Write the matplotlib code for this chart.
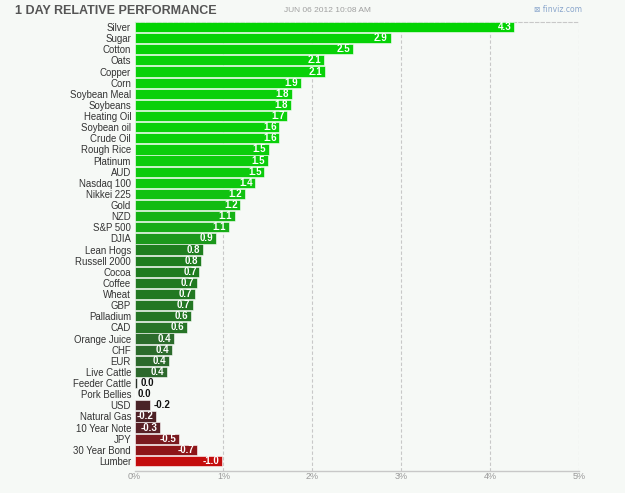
import matplotlib
matplotlib.use("Agg")
import matplotlib.pyplot as plt
import numpy as np
from matplotlib.colors import LinearSegmentedColormap

names = ["Silver", "Sugar", "Cotton", "Oats", "Copper", "Corn", "Soybean Meal",
         "Soybeans", "Heating Oil", "Soybean oil", "Crude Oil", "Rough Rice",
         "Platinum", "AUD", "Nasdaq 100", "Nikkei 225", "Gold", "NZD", "S&P 500",
         "DJIA", "Lean Hogs", "Russell 2000", "Cocoa", "Coffee", "Wheat", "GBP",
         "Palladium", "CAD", "Orange Juice", "CHF", "EUR", "Live Cattle",
         "Feeder Cattle", "Pork Bellies", "USD", "Natural Gas", "10 Year Note",
         "JPY", "30 Year Bond", "Lumber"]
values = [4.27, 2.88, 2.46, 2.13, 2.14, 1.87, 1.77,
          1.76, 1.72, 1.63, 1.63, 1.51,
          1.50, 1.46, 1.36, 1.24, 1.19, 1.13, 1.06,
          0.92, 0.77, 0.75, 0.73, 0.70, 0.68, 0.66,
          0.63, 0.59, 0.44, 0.42, 0.39, 0.37,
          0.03, 0.0, -0.17, -0.24, -0.29,
          -0.50, -0.70, -0.98]
ticks = [0, 1, 2, 3, 4, 5]
tick_labels = ["0%", "1%", "2%", "3%", "4%", "5%"]

pos_stops = [(0.0, "#262626"), (0.1, "#2d5a2d"), (0.45, "#2c6d2c"),
             (0.75, "#1e7c1e"), (0.9, "#1c951c"), (1.05, "#17ab17"),
             (1.25, "#0fc40f"), (1.6, "#0ad00a"), (5.0, "#00d400")]
pos_cmap = LinearSegmentedColormap.from_list("pos", [(x / 5.0, c) for x, c in pos_stops])
neg_cmap = LinearSegmentedColormap.from_list(
    "neg", [(0.0, "#3a2226"), (0.17, "#4a2428"), (0.24, "#4e2226"), (0.3, "#5a2025"),
            (0.5, "#7a1a1f"), (0.7, "#8e1518"), (1.0, "#c80c0c")])

def color_for(v):
    if v >= 0:
        return pos_cmap(min(v, 5.0) / 5.0)
    return neg_cmap(min(-v, 1.0))

bg = "#f6f9f6"
fig = plt.figure(figsize=(6.25, 4.93), dpi=100, facecolor=bg)
ax = fig.add_axes([0.2152, 0.0446, 0.9264 - 0.2152, 0.9554 - 0.0446])
ax.set_facecolor(bg)

y = np.arange(len(names))
widths = [abs(v) for v in values]
colors = [color_for(v) for v in values]
ax.barh(y, widths, height=0.92, color=colors, edgecolor="#ffffff",
        linewidth=0.4, zorder=3)

for yi, v, w in zip(y, values, widths):
    txt = f"{v:.1f}"
    if w < 0.2:
        ax.text(w + 0.04, yi, txt, ha="left", va="center", fontsize=7,
                fontweight="bold", color="#111111", family="Liberation Sans",
                zorder=5)
    else:
        ax.text(w - 0.03, yi, txt, ha="right", va="center", fontsize=7,
                fontweight="bold", color="white", family="Liberation Sans",
                zorder=5)

ax.set_xlim(0, 5)
ax.set_ylim(39.9, -0.45)
ax.set_yticks(y)
ax.set_yticklabels(names, fontsize=6.9, color="#333333", family="Liberation Sans")
ax.set_xticks(ticks)
ax.set_xticklabels(tick_labels, fontsize=6.5, color="#999999", family="Liberation Sans")
ax.tick_params(axis="y", length=0, pad=2.5)
ax.tick_params(axis="x", length=0, pad=1)

for t in ticks[1:]:
    ax.axvline(t, color="#c8c8c8", linestyle=(0, (3, 2)), linewidth=0.8, zorder=1)
for s in ["left", "right"]:
    ax.spines[s].set_visible(False)
ax.spines["top"].set_color("#c8c8c8")
ax.spines["top"].set_linestyle((0, (3, 2)))
ax.spines["top"].set_linewidth(0.8)
ax.spines["bottom"].set_color("#c8c8c8")
ax.spines["bottom"].set_linewidth(1.0)

fig.text(15 / 625, 1 - 11 / 493, "1 DAY RELATIVE PERFORMANCE", fontsize=9,
         fontweight="bold", color="#555555", family="Liberation Sans",
         ha="left", va="center")
fig.text(284 / 625, 1 - 10 / 493, "JUN 06 2012 10:08 AM", fontsize=6,
         color="#a0a0a0", family="Liberation Sans", ha="left", va="center")
fig.text(582 / 625, 1 - 9 / 493, "\u22a0 finviz.com", fontsize=5.5,
         color="#8aa6cc", family="DejaVu Sans", ha="right", va="center")

fig.savefig("out.png", dpi=100, facecolor=bg)
